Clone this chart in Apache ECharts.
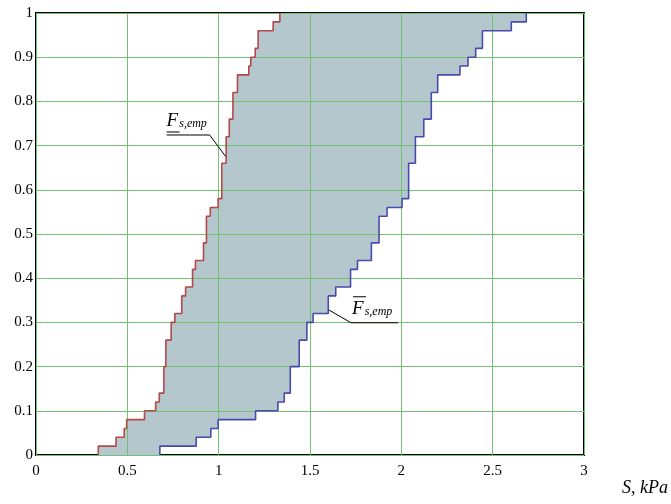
<!DOCTYPE html>
<html><head><meta charset="utf-8">
<script src="https://cdn.jsdelivr.net/npm/echarts@6/dist/echarts.min.js"></script>
<style>html,body{margin:0;padding:0;background:#fff}#c{width:671px;height:504px}</style>
</head><body><div id="c"></div>
<script>
// Empirical CDF levels shared by both bounds
const levels = [0.02,0.04,0.06,0.08,0.10,0.12,0.14,0.20,0.26,0.30,0.32,0.36,0.38,0.42,0.44,0.48,0.54,0.56,0.58,0.66,0.72,0.76,0.82,0.86,0.88,0.90,0.92,0.96,0.98,1.00];
// Lower bound (red) jump positions, S in kPa
const lowerS = [0.341,0.438,0.483,0.496,0.594,0.655,0.675,0.700,0.711,0.740,0.760,0.798,0.819,0.857,0.873,0.917,0.933,0.954,0.997,1.017,1.041,1.058,1.078,1.103,1.165,1.176,1.200,1.216,1.298,1.335];
// Upper bound (blue) jump positions, S in kPa
const upperS = [0.678,0.877,0.957,0.997,1.202,1.324,1.359,1.392,1.441,1.483,1.517,1.600,1.641,1.722,1.760,1.836,1.878,1.922,2.004,2.040,2.077,2.123,2.164,2.199,2.321,2.365,2.407,2.444,2.602,2.684];
const xTickLabels = ['0','0.5','1','1.5','2','2.5','3'];
const yTickLabels = ['0','0.1','0.2','0.3','0.4','0.5','0.6','0.7','0.8','0.9','1'];

function stepPath(xs){
  const pts=[[xs[0],0]]; let prev=0;
  xs.forEach((x,i)=>{ pts.push([x,prev]); pts.push([x,levels[i]]); prev=levels[i]; });
  return pts;
}
const redPts = stepPath(lowerS);
const bluePts = stepPath(upperS);
const poly = redPts.concat(bluePts.slice().reverse());

const serif = 'Liberation Serif';
const chart = echarts.init(document.getElementById('c'), null, {renderer:'canvas'});
const gridColor = '#72c272';
chart.setOption({
  animation:false,
  backgroundColor:'#fff',
  grid:{left:36, top:13, right:87, bottom:49, show:true, borderColor:'#000', borderWidth:2, backgroundColor:'transparent', outerBoundsMode:'none'},
  xAxis:{type:'value', min:0, max:3, interval:0.5, z:5,
    axisLine:{show:false}, axisTick:{show:false},
    splitLine:{show:true, lineStyle:{color:gridColor, width:1}},
    axisLabel:{color:'#000', fontFamily:serif, fontSize:15, margin:9,
      formatter:(v)=>xTickLabels[Math.round(v/0.5)]}},
  yAxis:{type:'value', min:0, max:1, interval:0.1, z:5,
    axisLine:{show:false}, axisTick:{show:false},
    splitLine:{show:true, lineStyle:{color:gridColor, width:1}},
    axisLabel:{color:'#000', fontFamily:serif, fontSize:15, margin:3, padding:[9,0,0,0],
      formatter:(v)=>yTickLabels[Math.round(v*10)]}},
  series:[
    {type:'custom', z:1, silent:true, data:[[0,0]],
      renderItem:(params, api)=>({type:'polygon', shape:{points:poly.map(p=>api.coord(p))}, style:{fill:'#b4c7cc'}})},
    {type:'line', z:10, data:redPts, symbol:'none', lineStyle:{color:'#b5484a', width:1.6}},
    {type:'line', z:10, data:bluePts, symbol:'none', lineStyle:{color:'#4a4aae', width:1.6}}
  ]
});

// annotations anchored in data coordinates
const px = p => chart.convertToPixel({gridIndex:0}, p);
const a1c = px([1.039,0.675]), a1 = px([0.715,0.724]);
const a2c = px([1.604,0.328]), a2 = px([1.610,0.315]);
const g = [];
// lower-bound label (underlined F)
g.push({type:'polyline', shape:{points:[[a1[0],a1[1]],[a1[0]+43,a1[1]],[a1c[0],a1c[1]]]}, style:{stroke:'#000', lineWidth:1, fill:null}, z:20});
g.push({type:'line', shape:{x1:a1[0], y1:a1[1]-3, x2:a1[0]+13, y2:a1[1]-3}, style:{stroke:'#000', lineWidth:1}, z:20});
g.push({type:'text', x:a1[0], y:a1[1]-4, z:20, style:{text:'{f|F}{s|s,emp}', rich:{f:{fontFamily:serif, fontStyle:'italic', fontSize:19, fill:'#000'}, s:{fontFamily:serif, fontStyle:'italic', fontSize:12, fill:'#000', padding:[5,0,0,1]}}, verticalAlign:'bottom'}});
// upper-bound label (overlined F)
const b0 = [a2[0]+21, a2[1]+7];
g.push({type:'polyline', shape:{points:[[a2c[0],a2c[1]],[b0[0],b0[1]],[b0[0]+47,b0[1]]]}, style:{stroke:'#000', lineWidth:1, fill:null}, z:20});
g.push({type:'line', shape:{x1:b0[0]+2, y1:b0[1]-26, x2:b0[0]+15, y2:b0[1]-26}, style:{stroke:'#000', lineWidth:1}, z:20});
g.push({type:'text', x:b0[0]+1, y:b0[1]-4, z:20, style:{text:'{f|F}{s|s,emp}', rich:{f:{fontFamily:serif, fontStyle:'italic', fontSize:19, fill:'#000'}, s:{fontFamily:serif, fontStyle:'italic', fontSize:12, fill:'#000', padding:[5,0,0,1]}}, verticalAlign:'bottom'}});
// axis title
g.push({type:'text', right:3, top:479, z:20, style:{text:'S, kPa', fontFamily:serif, fontStyle:'italic', fontSize:18, fill:'#000'}});
chart.setOption({graphic:g});
</script></body></html>
